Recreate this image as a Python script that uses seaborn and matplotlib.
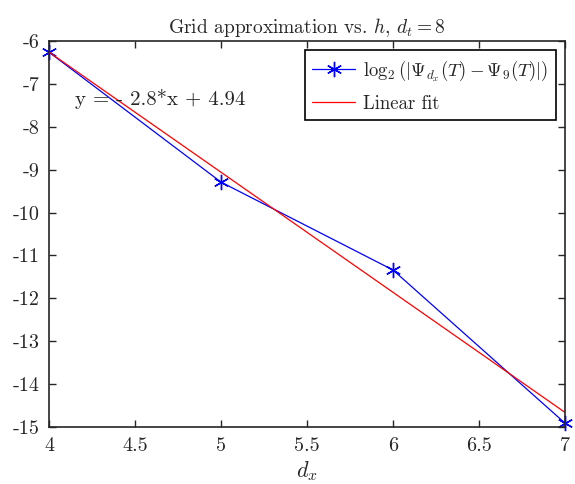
import matplotlib
matplotlib.use("Agg")
import matplotlib.pyplot as plt
import seaborn as sns
import numpy as np
import pandas as pd

# Data
dx_values = [4, 5, 6, 7]
log_err = [-6.26, -9.29, -11.34, -14.91]
fit_slope = -2.8
fit_intercept = 4.94
x_ticks = [4, 4.5, 5, 5.5, 6, 6.5, 7]
x_tick_labels = ["4", "4.5", "5", "5.5", "6", "6.5", "7"]
y_ticks = [-15, -14, -13, -12, -11, -10, -9, -8, -7, -6]
y_tick_labels = ["-15", "-14", "-13", "-12", "-11", "-10", "-9", "-8", "-7", "-6"]

sns.set_style("ticks")
plt.rcParams["font.family"] = ["cmr10", "DejaVu Serif"]
plt.rcParams["mathtext.fontset"] = "cm"
plt.rcParams["axes.unicode_minus"] = False

fig = plt.figure(figsize=(5.75, 4.84), dpi=100)
ax = fig.add_axes([49/575, 1-427/484, (565-49)/575, (427-41)/484])

df = pd.DataFrame({"dx": dx_values, "err": log_err})
fit_x = np.array([dx_values[0], dx_values[-1]])
fit_df = pd.DataFrame({"dx": fit_x, "fit": fit_slope * fit_x + fit_intercept})

sns.lineplot(data=df, x="dx", y="err", ax=ax, color="blue", marker=(6, 2, 0),
             markersize=11, markeredgecolor="blue", markeredgewidth=1.0, lw=0.9,
             label=r"$\log_2(|\Psi_{d_x}(T)-\Psi_9(T)|)$", clip_on=False)
sns.lineplot(data=fit_df, x="dx", y="fit", ax=ax, color="red", lw=0.9,
             label="Linear fit")

ax.set_xlim(4, 7)
ax.set_ylim(-15, -6)
ax.set_xticks(x_ticks)
ax.set_xticklabels(x_tick_labels)
ax.set_yticks(y_ticks)
ax.set_yticklabels(y_tick_labels)
ax.tick_params(direction="in", top=True, right=True, length=5, width=1,
               labelsize=14.5, pad=7)
for s in ax.spines.values():
    s.set_linewidth(1.2)
    s.set_visible(True)

ax.set_xlabel(r"$d_x$", fontsize=16, labelpad=3)
ax.set_ylabel("")
ax.set_title(r"Grid approximation vs. $h$, $d_t=8$", fontsize=14, pad=6)
ax.text(4.15, -7.35, "y = - 2.8*x + 4.94", fontsize=15, va="center", ha="left")

leg = ax.legend(loc="upper right", fontsize=13.5, frameon=True, fancybox=False,
                edgecolor="black", framealpha=1, borderaxespad=0.5,
                handlelength=2.3, borderpad=0.4, labelspacing=0.65,
                handletextpad=0.4)
leg.get_frame().set_linewidth(1.2)

fig.savefig("out.png", dpi=100)
